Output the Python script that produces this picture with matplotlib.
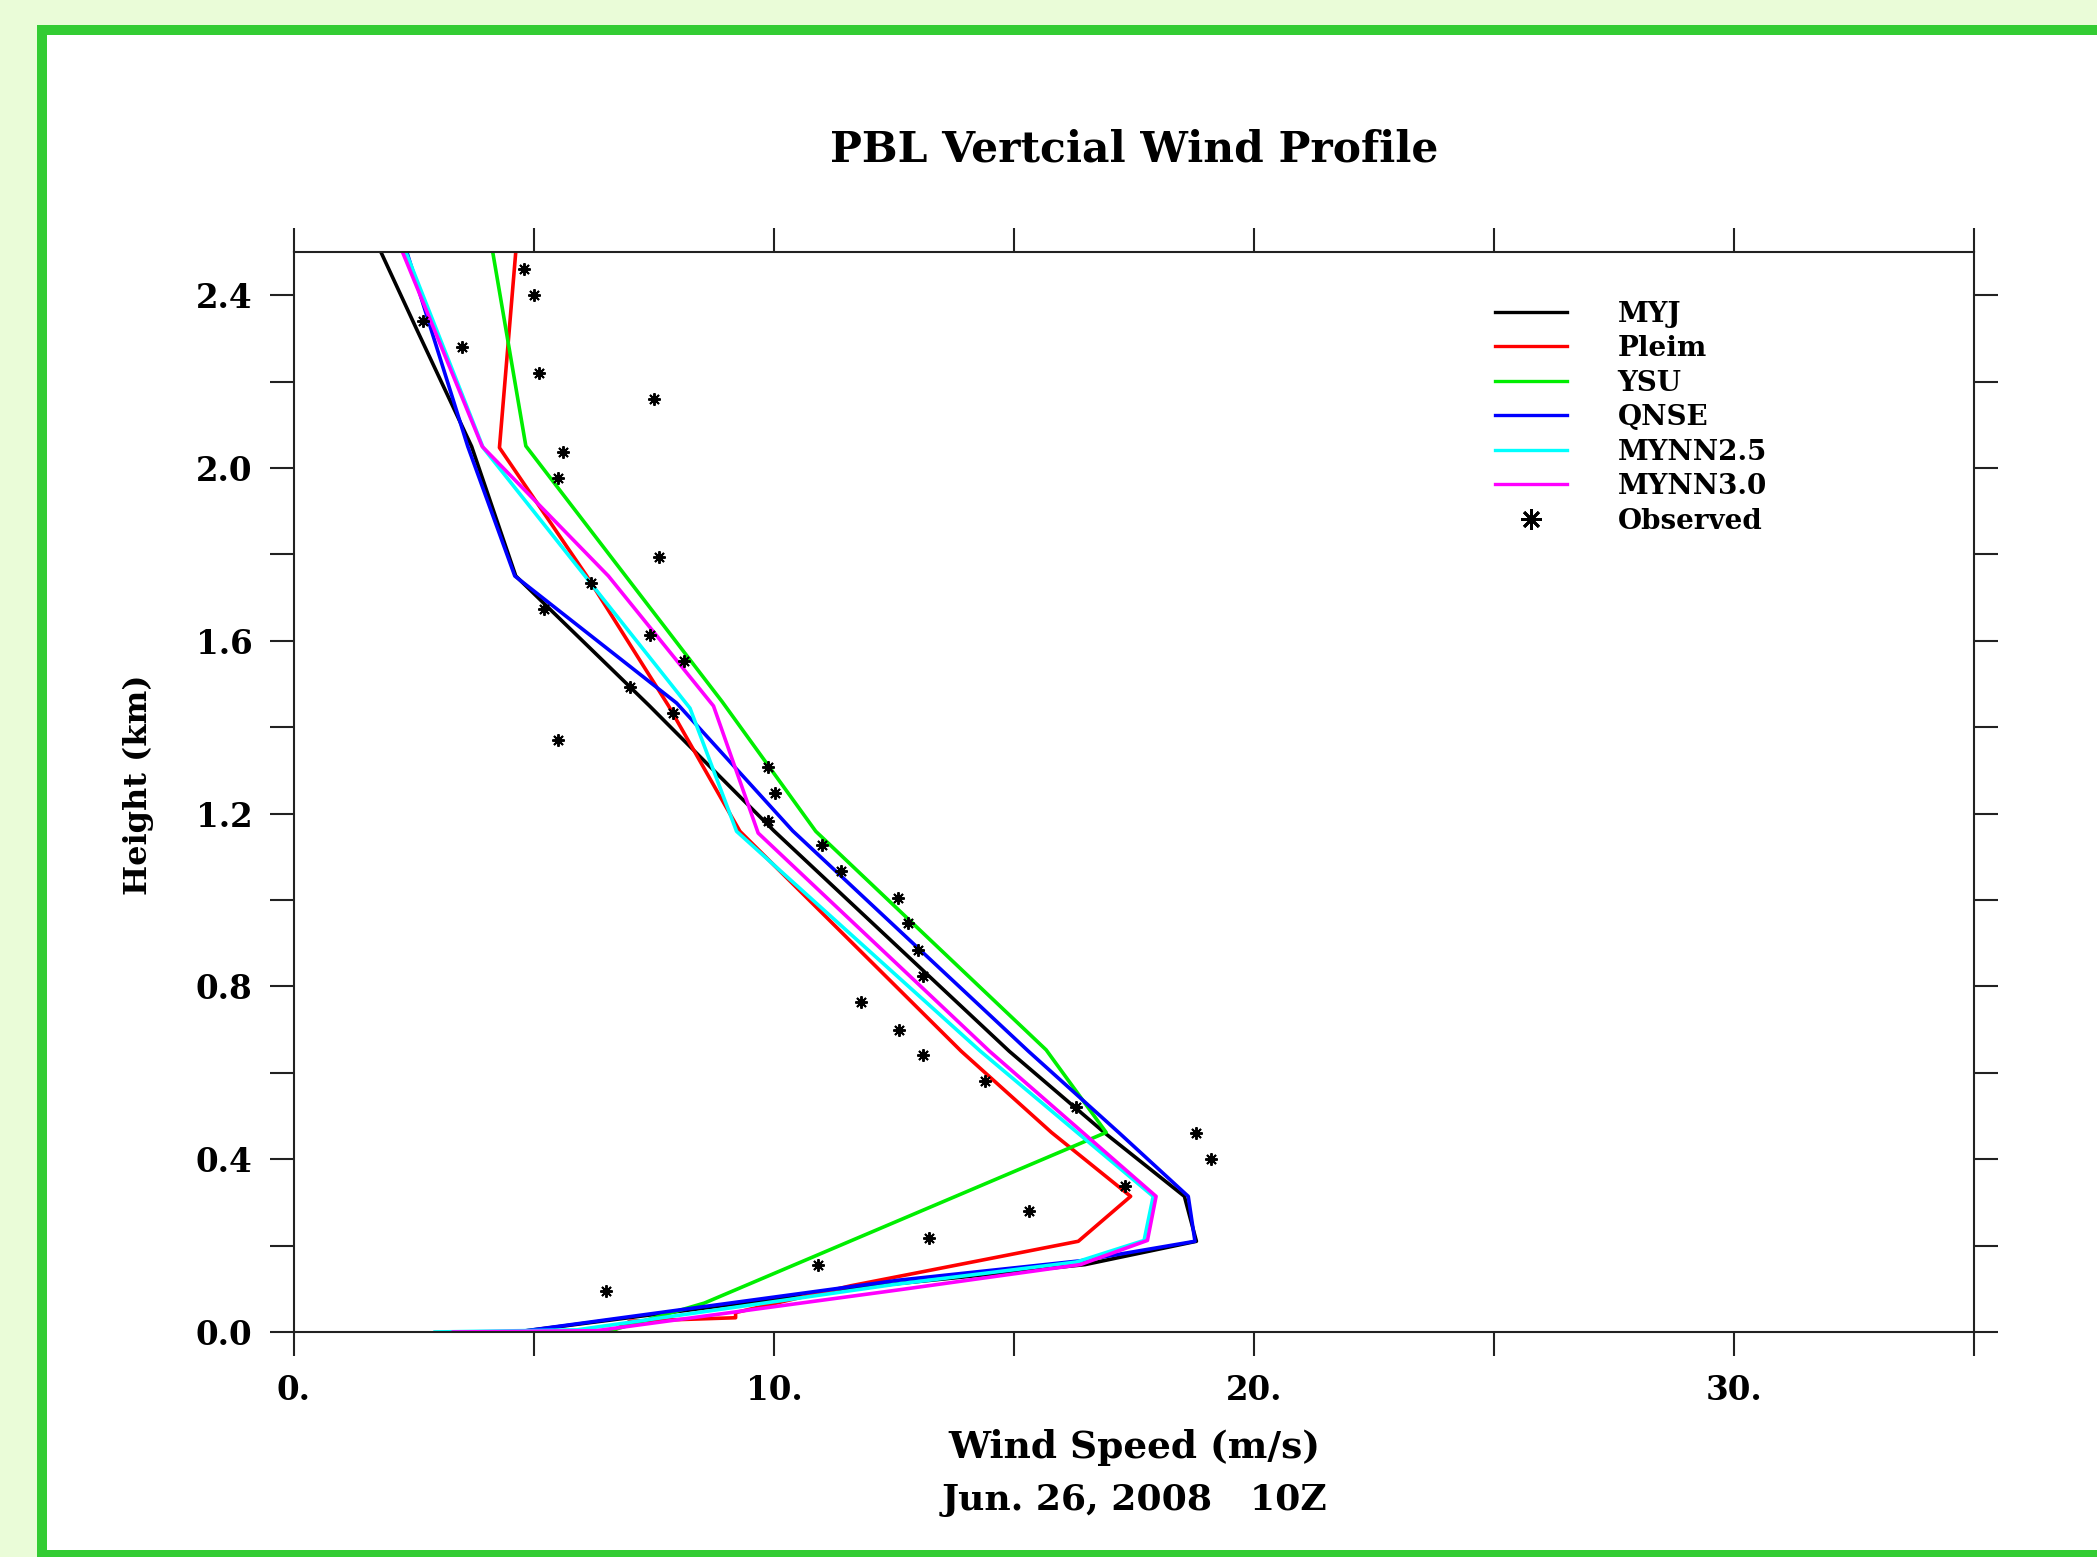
import numpy as np
import matplotlib.pyplot as plt
from matplotlib.patches import Rectangle
from matplotlib.lines import Line2D

plt.rcParams['font.family'] = ['DejaVu Serif']
plt.rcParams['font.weight'] = 'bold'

# model profiles: wind speed (m/s) at height (km)
myj_z = [0.0, 0.11, 0.156, 0.21, 0.314, 0.46, 0.65, 1.16, 1.45, 1.75, 2.05, 2.32, 2.5]
myj_u = [4.64, 12.4, 16.48, 18.8, 18.55, 16.9, 14.9, 10.0, 7.4, 4.62, 3.7, 2.56, 1.81]

pleim_z = [0.0, 0.025, 0.033, 0.045, 0.107, 0.21, 0.314, 0.462, 0.65, 1.159, 1.45, 1.75, 2.047, 2.5]
pleim_u = [6.6, 7.0, 9.2, 9.2, 11.6, 16.34, 17.43, 15.78, 13.9, 9.29, 7.8, 6.1, 4.28, 4.62]

ysu_z = [0.0, 0.067, 0.462, 0.653, 1.159, 1.459, 2.051, 2.5]
ysu_u = [6.5, 8.55, 16.92, 15.67, 10.87, 8.92, 4.83, 4.14]

qnse_z = [0.0, 0.12, 0.165, 0.21, 0.314, 0.46, 0.65, 1.16, 1.456, 1.75, 2.05, 2.5]
qnse_u = [4.64, 12.6, 16.4, 18.77, 18.63, 17.2, 15.3, 10.39, 7.97, 4.6, 3.62, 2.35]

mynn25_z = [0.0, 0.005, 0.11, 0.162, 0.212, 0.314, 0.65, 1.159, 1.444, 2.047, 2.5]
mynn25_u = [2.94, 5.9, 12.5, 16.3, 17.71, 17.90, 14.3, 9.22, 8.25, 3.94, 2.33]

mynn30_z = [0.0, 0.003, 0.098, 0.156, 0.212, 0.314, 0.65, 1.155, 1.449, 1.75, 2.05, 2.5]
mynn30_u = [3.32, 6.3, 12.63, 16.38, 17.78, 17.96, 14.49, 9.67, 8.74, 6.55, 3.92, 2.26]

obs_z = [0.096, 0.156, 0.218, 0.279, 0.337, 0.401, 0.461, 0.521, 0.580, 0.642,
         0.700, 0.763, 0.824, 0.884, 0.946, 1.005, 1.067, 1.127, 1.184, 1.247,
         1.309, 1.370, 1.432, 1.493, 1.553, 1.613, 1.674, 1.734, 1.794, 1.977,
         2.037, 2.159, 2.219, 2.281, 2.340, 2.400, 2.461]
obs_u = [6.50, 10.91, 13.22, 15.32, 17.31, 19.11, 18.80, 16.29, 14.40, 13.10,
         12.60, 11.81, 13.10, 13.00, 12.80, 12.58, 11.39, 10.99, 9.88, 10.02,
         9.88, 5.51, 7.90, 7.00, 8.13, 7.42, 5.20, 6.19, 7.60, 5.51,
         5.60, 7.50, 5.11, 3.51, 2.69, 5.00, 4.79]

names = ['MYJ', 'Pleim', 'YSU', 'QNSE', 'MYNN2.5', 'MYNN3.0']
colors = ['#000000', '#ff0000', '#00ee00', '#0000ff', '#00ffff', '#ff00ff']
profiles = [(myj_u, myj_z), (pleim_u, pleim_z), (ysu_u, ysu_z),
            (qnse_u, qnse_z), (mynn25_u, mynn25_z), (mynn30_u, mynn30_z)]

W, H = 2097, 1557
fig = plt.figure(figsize=(W / 100, H / 100), dpi=100, facecolor='#eafcd8')

# white panel with green frame
frame = Rectangle((42 / W, 2 / H), (2150 - 42) / W, (1527 - 2) / H,
                  transform=fig.transFigure, facecolor='white',
                  edgecolor='#33cc33', linewidth=7.2, zorder=-5)
fig.patches.append(frame)

ax = fig.add_axes([294 / W, 225 / H, 1680 / W, 1080 / H])

handles = []
for (u, z), name, c in zip(profiles, names, colors):
    ax.plot(u, z, color=c, lw=2.6, label=name)
    handles.append(Line2D([], [], color=c, lw=2.4))

ax.plot(obs_u, obs_z, ls='none', marker=(8, 2, 0), ms=9, mew=1.4, color='k')
handles.append(Line2D([], [], ls='none', marker=(8, 2, 0), ms=15, mew=2, color='k'))

ax.set_xlim(0, 35)
ax.set_ylim(0, 2.5)
ax.set_xticks(np.arange(0, 36, 5))
ax.set_xticklabels(['0.', '', '10.', '', '20.', '', '30.', ''])
yt = np.arange(0, 2.41, 0.2)
ax.set_yticks(yt)
ax.set_yticklabels([f'{v:.1f}' if i % 2 == 0 else '' for i, v in enumerate(yt)])
ax.tick_params(direction='out', length=17, width=1.5, top=True, right=True,
               labelsize=23.5, pad=13, color='#222222')
for s in ax.spines.values():
    s.set_linewidth(1.5)
    s.set_color('#222222')

ax.legend(handles, names + ['Observed'], frameon=False, fontsize=20,
          handlelength=2.6, handletextpad=1.8, labelspacing=0.27,
          loc='upper left', bbox_to_anchor=(0.715, 0.955),
          borderaxespad=0, borderpad=0)

fig.text(1134 / W, 1 - 150 / H, 'PBL Vertcial Wind Profile', ha='center',
         va='center', fontsize=30.5, fontweight='bold')
fig.text(1134 / W, 1 - 1448 / H, 'Wind Speed (m/s)', ha='center', va='center',
         fontsize=27)
fig.text(1134 / W, 1 - 1500 / H, 'Jun. 26, 2008   10Z', ha='center',
         va='center', fontsize=26)
fig.text(138 / W, 1 - 785 / H, 'Height (km)', ha='center', va='center',
         rotation=90, fontsize=23)

fig.savefig('out.png', dpi=100, facecolor=fig.get_facecolor())
